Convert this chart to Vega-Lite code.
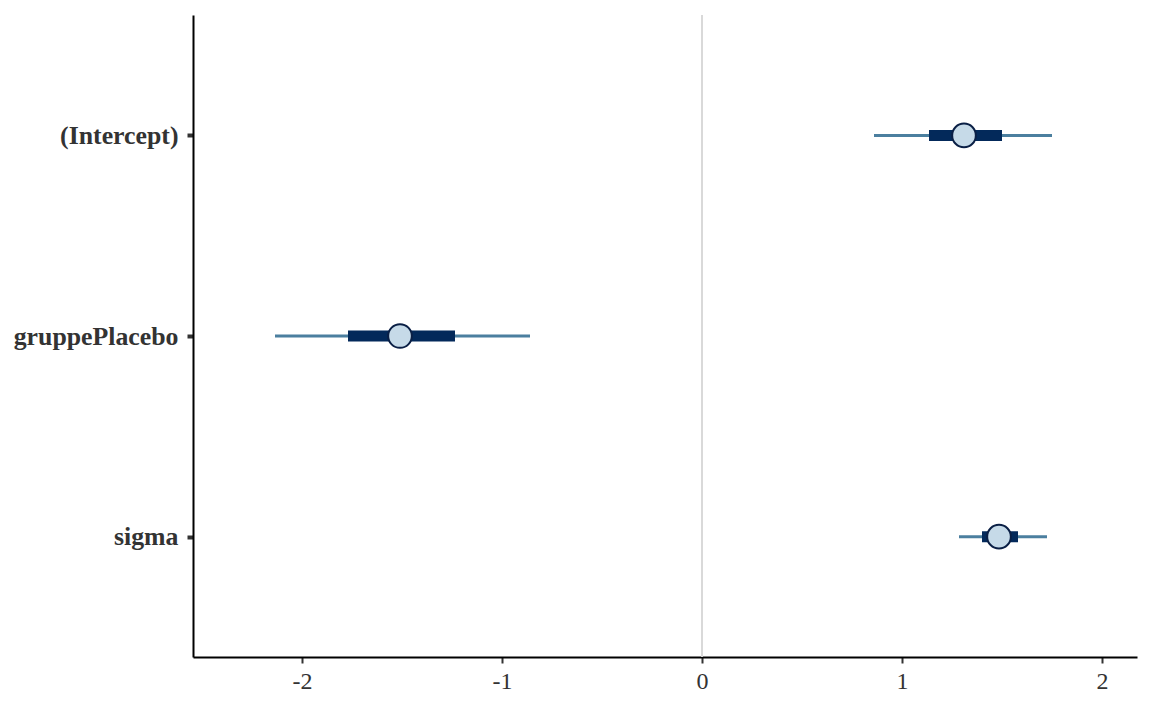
{
  "$schema": "https://vega.github.io/schema/vega-lite/v6.json",
  "autosize": "none",
  "width": 944,
  "height": 642,
  "padding": {"left": 193, "top": 15, "right": 15, "bottom": 54},
  "background": "white",
  "config": {"view": {"stroke": null}, "font": "Liberation Serif"},
  "data": {"values": [
    {"parameter": "(Intercept)", "ll": 0.86, "l": 1.135, "m": 1.31, "h": 1.50, "hh": 1.75},
    {"parameter": "gruppePlacebo", "ll": -2.135, "l": -1.77, "m": -1.51, "h": -1.235, "hh": -0.86},
    {"parameter": "sigma", "ll": 1.285, "l": 1.40, "m": 1.485, "h": 1.58, "hh": 1.725}
  ]},
  "encoding": {
    "y": {
      "field": "parameter", "type": "nominal",
      "sort": ["(Intercept)", "gruppePlacebo", "sigma"],
      "scale": {"type": "point", "padding": 0.6},
      "axis": {
        "title": null, "domainColor": "black", "domainWidth": 2,
        "tickColor": "#333333", "tickWidth": 4, "tickSize": 6,
        "labelFont": "Liberation Serif", "labelFontWeight": "bold",
        "labelFontSize": 25.8, "labelColor": "#333333", "labelPadding": 9
      }
    }
  },
  "layer": [
    {
      "data": {"values": [{"z": 0}]},
      "mark": {"type": "rule", "color": "#d9d9d9", "strokeWidth": 2},
      "encoding": {"x": {"field": "z", "type": "quantitative"}, "y": null}
    },
    {
      "mark": {"type": "rule", "color": "#4b7f9f", "strokeWidth": 3},
      "encoding": {
        "x": {
          "field": "ll", "type": "quantitative",
          "scale": {"domain": [-2.545, 2.175], "nice": false, "zero": false},
          "axis": {
            "title": null, "grid": false, "values": [-2, -1, 0, 1, 2],
            "labelExpr": "'' + datum.value",
            "domainColor": "black", "domainWidth": 2,
            "tickColor": "#333333", "tickWidth": 2, "tickSize": 6,
            "labelFont": "Liberation Serif", "labelFontSize": 24,
            "labelColor": "#333333", "labelPadding": 6
          }
        },
        "x2": {"field": "hh"}
      }
    },
    {
      "mark": {"type": "rule", "color": "#03295a", "strokeWidth": 11},
      "encoding": {"x": {"field": "l", "type": "quantitative"}, "x2": {"field": "h"}}
    },
    {
      "mark": {"type": "point", "shape": "circle", "filled": true, "fill": "#c6dae8", "stroke": "#0a1f45", "strokeWidth": 2, "size": 560, "opacity": 1},
      "encoding": {"x": {"field": "m", "type": "quantitative"}}
    }
  ]
}
